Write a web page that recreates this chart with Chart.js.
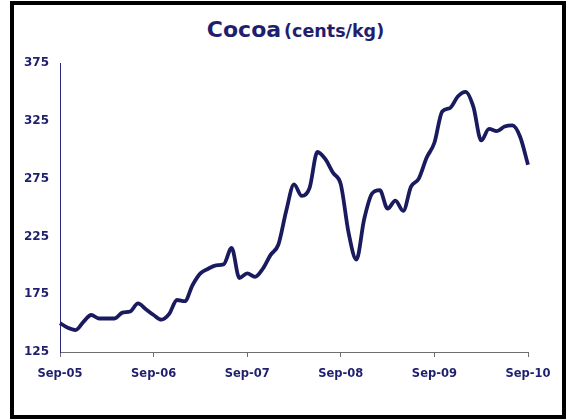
<!DOCTYPE html>
<html>
<head>
<meta charset="utf-8">
<script src="https://cdn.jsdelivr.net/npm/chart.js@4"></script>
<style>
  html, body { margin: 0; padding: 0; background: #fff; }
  body { width: 568px; height: 420px; position: relative; overflow: hidden; }
  #frame { position: absolute; left: 10px; top: 1px; width: 556px; height: 418px; box-sizing: border-box; border: 4px solid #000; }
  #title { position: absolute; left: 0; width: 591px; top: 17px; text-align: center; color: #1F1F6E; font-family: "DejaVu Sans", sans-serif; font-weight: bold; white-space: nowrap; }
  #title .main { font-size: 22px; }
  #title .unit { font-size: 17.5px; margin-left: 3px; }
  #wrap { position: absolute; left: 0; top: 0; width: 568px; height: 420px; }
</style>
</head>
<body>
<div id="frame"></div>
<div id="title"><span class="main">Cocoa</span><span class="unit">(cents/kg)</span></div>
<div id="wrap"><canvas id="c" width="568" height="420"></canvas></div>
<script>
const months = [
  'Sep-05','Oct-05','Nov-05','Dec-05','Jan-06','Feb-06','Mar-06','Apr-06','May-06','Jun-06','Jul-06','Aug-06',
  'Sep-06','Oct-06','Nov-06','Dec-06','Jan-07','Feb-07','Mar-07','Apr-07','May-07','Jun-07','Jul-07','Aug-07',
  'Sep-07','Oct-07','Nov-07','Dec-07','Jan-08','Feb-08','Mar-08','Apr-08','May-08','Jun-08','Jul-08','Aug-08',
  'Sep-08','Oct-08','Nov-08','Dec-08','Jan-09','Feb-09','Mar-09','Apr-09','May-09','Jun-09','Jul-09','Aug-09',
  'Sep-09','Oct-09','Nov-09','Dec-09','Jan-10','Feb-10','Mar-10','Apr-10','May-10','Jun-10','Jul-10','Aug-10',
  'Sep-10'
];
const cocoa = [
  150, 146, 144, 151, 157, 154, 154, 154, 159, 160, 167, 162,
  157, 153, 158, 170, 169, 183, 193, 197, 200, 201, 215, 189,
  193, 190, 197, 209, 218, 247, 270, 260, 267, 298, 292, 280,
  270, 228, 205, 240, 262, 265, 249, 256, 247, 268, 275, 293,
  306, 333, 336, 346, 350, 337, 308, 318, 316, 320, 321, 311,
  287
];
const yTicks = { min: 125, max: 375, step: 50 };
const textColor = '#1F1F6E';
const lineColor = '#1A1A5E';

new Chart(document.getElementById('c'), {
  type: 'line',
  data: {
    labels: months,
    datasets: [{
      data: cocoa,
      borderColor: lineColor,
      borderWidth: 3.8,
      pointRadius: 0,
      tension: 0.4,
      cubicInterpolationMode: 'monotone',
      fill: false
    }]
  },
  options: {
    responsive: false,
    animation: false,
    layout: { padding: { left: 0, right: 40, top: 63, bottom: 0 } },
    plugins: { legend: { display: false }, tooltip: { enabled: false }, title: { display: false } },
    scales: {
      x: {
        type: 'category',
        offset: false,
        afterFit: (s) => { s.height = 68; },
        border: { display: true, color: '#6E6E6E', width: 1 },
        grid: {
          display: true,
          drawOnChartArea: false,
          drawTicks: true,
          tickLength: 5,
          lineWidth: 1,
          color: (ctx) => (ctx.index % 12 === 0 ? '#6E6E6E' : 'rgba(0,0,0,0)')
        },
        ticks: {
          autoSkip: false,
          maxRotation: 0,
          minRotation: 0,
          padding: 10,
          color: textColor,
          font: { family: 'DejaVu Sans', weight: 'bold', size: 11.5 },
          callback: function (v, i) { return i % 12 === 0 ? months[i] : ''; }
        }
      },
      y: {
        min: yTicks.min,
        max: yTicks.max,
        afterFit: (s) => { s.width = 60; },
        border: { display: true, color: '#2A2A7A', width: 1 },
        grid: { display: false, drawTicks: false },
        ticks: {
          stepSize: yTicks.step,
          padding: 11,
          color: textColor,
          font: { family: 'DejaVu Sans', weight: 'bold', size: 12 }
        }
      }
    }
  }
});
</script>
</body>
</html>
